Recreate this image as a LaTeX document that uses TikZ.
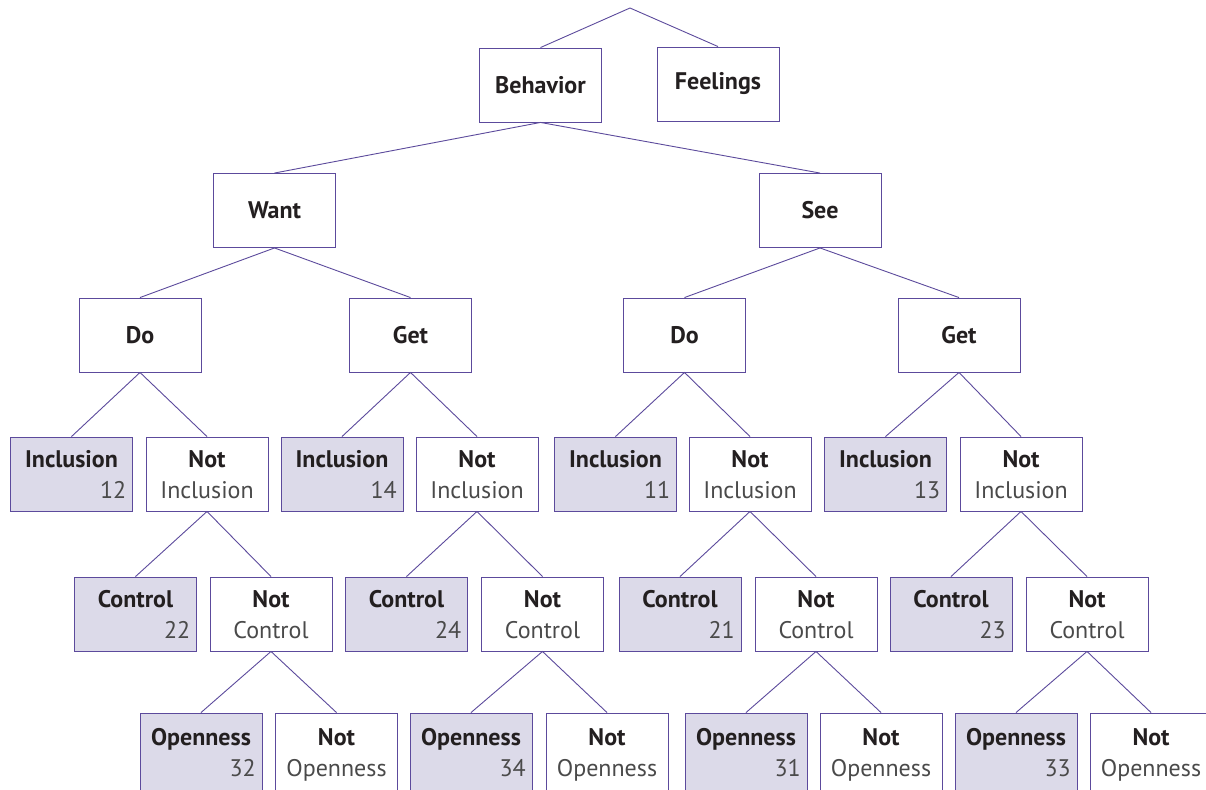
\documentclass[tikz,border=0pt]{standalone}
\usepackage{fontspec}
\setmainfont{PT Sans}
\definecolor{edgec}{HTML}{5C4A9C}
\definecolor{shade}{HTML}{DCDAE9}
\definecolor{txt}{HTML}{231F20}
\definecolor{numc}{HTML}{4A4A4A}
\tikzset{
  box/.style={draw=edgec, line width=0.9pt, fill=white, minimum width=122pt, minimum height=74pt, inner sep=0pt},
  shbox/.style={box, fill=shade},
  tallbox/.style={minimum height=78pt},
  bigl/.style={font=\fontsize{24}{28}\selectfont\bfseries, text=txt, inner sep=0pt},
  boldl/.style={font=\fontsize{24}{28}\selectfont\bfseries, text=txt, inner sep=0pt, anchor=base},
  regl/.style={font=\fontsize{24}{28}\selectfont, text=numc, inner sep=0pt, anchor=base},
  numl/.style={font=\fontsize{24}{28}\selectfont, text=numc, inner sep=0pt, anchor=base east},
  conn/.style={draw=edgec, line width=0.9pt}
}
% shaded leaf: name, cx, top, label, number, extra style
\newcommand{\leafbox}[6]{%
  \node[shbox,#6] (#1) at (#2,#3+37) {};
  \node[boldl] (#1-l) at (#2,#3+30) {#4};
  \node[numl] (#1-n) at (#2+55,#3+61) {#5};
}
% "Not" box: name, cx, top, second word, extra style
\newcommand{\notbox}[5]{%
  \node[box,#5] (#1) at (#2,#3+37) {};
  \node[boldl] (#1-l) at (#2,#3+30) {Not};
  \node[regl] (#1-n) at (#2,#3+61) {#4};
}
\begin{document}
\begin{tikzpicture}[x=1pt,y=-1pt]
\useasboundingbox (0,0) rectangle (1206,789);
\clip (0,0) rectangle (1206,789);
\fill[white] (0,0) rectangle (1206,789);

\coordinate (apex) at (630,8);
\node[box,bigl] (behavior) at (540.5,85) {Behavior};
\node[box,bigl] (feelings) at (718,84) {Feelings};

\node[box,bigl] (want) at (274.5,210.5) {Want};
\node[box,bigl] (see) at (820,210.5) {See};

\node[box,bigl] (do1) at (140,335) {Do};
\node[box,bigl] (get1) at (410.5,335) {Get};
\node[box,bigl] (do2) at (684.5,335) {Do};
\node[box,bigl] (get2) at (959,335) {Get};

\leafbox{inc12}{71.5}{437}{Inclusion}{12}{}
\notbox{ni1}{207}{437}{Inclusion}{}
\leafbox{inc14}{342}{437}{Inclusion}{14}{}
\notbox{ni2}{477}{437}{Inclusion}{}
\leafbox{inc11}{615.5}{437}{Inclusion}{11}{}
\notbox{ni3}{750}{437}{Inclusion}{}
\leafbox{inc13}{885.5}{437}{Inclusion}{13}{}
\notbox{ni4}{1021}{437}{Inclusion}{}

\leafbox{con22}{135.5}{577}{Control}{22}{}
\notbox{nc1}{271}{577}{Control}{}
\leafbox{con24}{406.5}{577}{Control}{24}{}
\notbox{nc2}{542.5}{577}{Control}{}
\leafbox{con21}{680}{577}{Control}{21}{}
\notbox{nc3}{816}{577}{Control}{}
\leafbox{con23}{951}{577}{Control}{23}{}
\notbox{nc4}{1087}{577}{Control}{}

\leafbox{op32}{201}{715}{Openness}{32}{tallbox}
\notbox{no1}{336.5}{715}{Openness}{tallbox}
\leafbox{op34}{471}{715}{Openness}{34}{tallbox}
\notbox{no2}{607}{715}{Openness}{tallbox}
\leafbox{op31}{746}{715}{Openness}{31}{tallbox}
\notbox{no3}{881}{715}{Openness}{tallbox}
\leafbox{op33}{1016}{715}{Openness}{33}{tallbox}
\notbox{no4}{1151}{715}{Openness}{tallbox}

\draw[conn] (behavior.north) -- (apex) -- (feelings.north);
\draw[conn] (want.north) -- (behavior.south) -- (see.north);
\draw[conn] (do1.north) -- (want.south) -- (get1.north);
\draw[conn] (do2.north) -- (see.south) -- (get2.north);
\draw[conn] (inc12.north) -- (do1.south) -- (ni1.north);
\draw[conn] (inc14.north) -- (get1.south) -- (ni2.north);
\draw[conn] (inc11.north) -- (do2.south) -- (ni3.north);
\draw[conn] (inc13.north) -- (get2.south) -- (ni4.north);
\draw[conn] (con22.north) -- (ni1.south) -- (nc1.north);
\draw[conn] (con24.north) -- (ni2.south) -- (nc2.north);
\draw[conn] (con21.north) -- (ni3.south) -- (nc3.north);
\draw[conn] (con23.north) -- (ni4.south) -- (nc4.north);
\draw[conn] (op32.north) -- (nc1.south) -- (no1.north);
\draw[conn] (op34.north) -- (nc2.south) -- (no2.north);
\draw[conn] (op31.north) -- (nc3.south) -- (no3.north);
\draw[conn] (op33.north) -- (nc4.south) -- (no4.north);
\end{tikzpicture}
\end{document}
